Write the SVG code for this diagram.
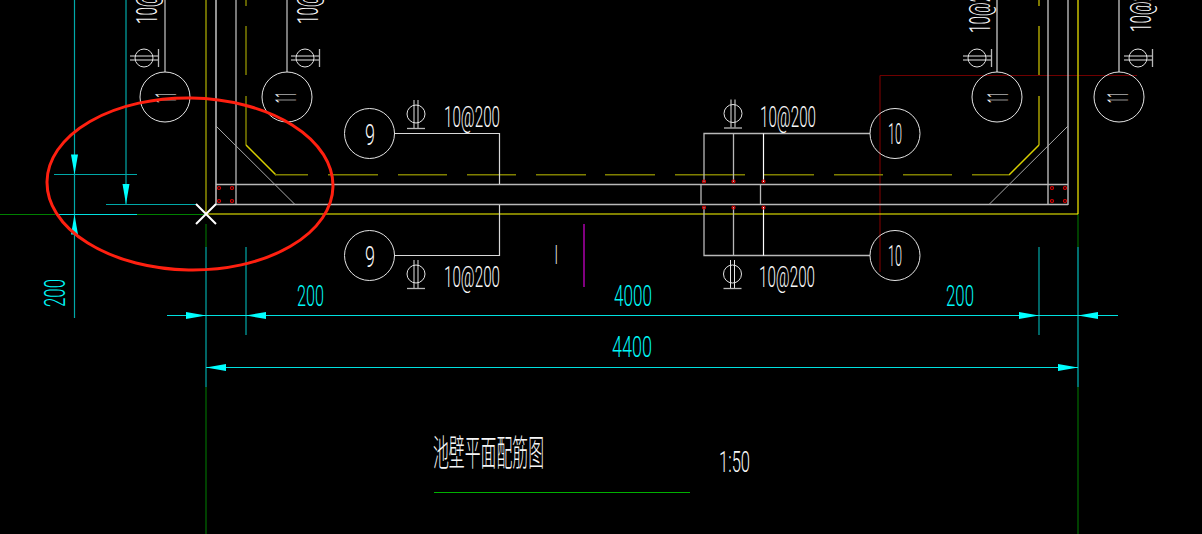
<svg xmlns="http://www.w3.org/2000/svg" xmlns:xlink="http://www.w3.org/1999/xlink" width="1202" height="534" viewBox="0 0 1202 534">
<style>
text{font-family:Roboto,"Liberation Sans","Noto Sans CJK SC",sans-serif;font-weight:300;fill:#fff;font-size:29px;opacity:.97}
.w{fill:#fff}
.c{fill:#00ffff}
.l{fill:none;stroke:#d8d8d8;stroke-width:1.2}
.g{fill:none;stroke:#b8b8b8;stroke-width:1.3}
.n{fill:none;stroke:#e4e4e4;stroke-width:1}
.o{fill:none;stroke:#808000;stroke-width:1.5}
.t{fill:none;stroke:#00a8a8;stroke-width:1.2}
.b{fill:none;stroke:#00e0e0;stroke-width:1}
.v{fill:none;stroke:#008000;stroke-width:1}
.a{fill:#00ffff}
.r{fill:none;stroke:#e00000;stroke-width:1.2}
</style>
<defs>
<g id="phi"><circle r="9" class="n"/><path d="M-2-14V14M2-14V14" class="n"/><path d="M-9 14.5H9" class="g"/></g>
<polygon id="arr" class="a" points="0,0 20,-3.5 20,3.5"/>
</defs>
<rect width="1202" height="534" fill="#000"/>
<g id="connectors">
<path d="M880 75.5H1137M880 75.5V272" fill="none" stroke="#700000" stroke-width="1.2"/>
<path d="M0 214.5H55M137 214.5H206" class="v"/>
<path d="M206 224V247M206 387V534M1078 214V247M1078 387V534" class="v"/>
<path d="M246 0V6M246 26V75M246 96V145" class="o"/>
<path d="M1039 0V6M1039 26V75M1039 96V145" fill="none" stroke="#a8a000" stroke-width="1.5"/>
<path d="M246 145L276 175M1039 145L1009 175" fill="none" stroke="#d8d000" stroke-width="1.5"/>
<path d="M275 174.7H308M328 174.7H378M398 174.7H447M467 174.7H516M536 174.7H586M605 174.7H655M675 174.7H745M764 174.7H814M834 174.7H883M903 174.7H952M972 174.7H1009" class="o"/>
<path d="M206 0V214" fill="none" stroke="#909000" stroke-width="1.5"/>
<path d="M1078 0V214" fill="none" stroke="#c8c000" stroke-width="1.5"/>
<path d="M206 214H1078" fill="none" stroke="#ffff00" stroke-width="1.2"/>
<path d="M216 0V205" class="g" style="stroke-width:1.6"/>
<path d="M236 0V205" class="g"/>
<path d="M1048 0V205M1068 0V205" class="l"/>
<path d="M216 184.5H1068M216 204.5H1068" class="g"/>
<path d="M216 126L295 204.5M1068 126L989 204.5" fill="none" stroke="#a8a8a8" stroke-width="1"/>
<path d="M701 184V204M760.5 184V204" class="g"/>
<path d="M165 0V72M287 0V72" class="g"/>
<path d="M997 0V72M1119 0V72" class="l"/>
<path d="M394 133.5H499.5V184M394 255.5H499.5V205" class="l"/>
<path d="M870 133.5H704V182M733.5 133.5V182M870 255.5H704V207M733.5 255.5V207" class="g"/>
<path d="M763.5 133.5V182M763.5 255.5V207" class="l" style="stroke:#fff"/>
<path d="M74.5 0V318M126 0V204M206 247V387M246 247V335M1039 247V335" class="t"/>
<path d="M1078 247V387" class="b"/>
<path d="M54 174.5H137" class="t"/>
<path d="M106 204.5H196" class="t"/>
<path d="M58 214.5H137" class="b"/>
<path d="M167 315.5H1118M206 367.5H1078" class="b"/>
<use xlink:href="#arr" transform="translate(74.5 174.5) rotate(-90)"/>
<use xlink:href="#arr" transform="translate(126 204) rotate(-90)"/>
<use xlink:href="#arr" transform="translate(74.5 214.5) rotate(90)"/>
<use xlink:href="#arr" transform="translate(206 315.5) rotate(180)"/>
<use xlink:href="#arr" transform="translate(246 315.5)"/>
<use xlink:href="#arr" transform="translate(1039 315.5) rotate(180)"/>
<use xlink:href="#arr" transform="translate(1078 315.5)"/>
<use xlink:href="#arr" transform="translate(206 367.5)"/>
<use xlink:href="#arr" transform="translate(1078 367.5) rotate(180)"/>
<path d="M196 224L216 204M196 204L216 224" fill="none" stroke="#fff" stroke-width="2"/>
<g class="r">
<circle cx="219" cy="188" r="1.5"/><circle cx="232" cy="188" r="1.5"/><circle cx="219" cy="201" r="1.5"/><circle cx="232" cy="201" r="1.5"/>
<circle cx="1052" cy="188" r="1.5"/><circle cx="1065" cy="188" r="1.5"/><circle cx="1052" cy="201" r="1.5"/><circle cx="1065" cy="201" r="1.5"/>
<circle cx="704" cy="181.5" r="1.5"/><circle cx="733.5" cy="181.5" r="1.5"/><circle cx="763.5" cy="181.5" r="1.5"/>
<circle cx="704" cy="207.5" r="1.5"/><circle cx="733.5" cy="207.5" r="1.5"/><circle cx="763.5" cy="207.5" r="1.5"/>
</g>
<path d="M584 224V287" fill="none" stroke="#800080" stroke-width="2"/>
<path d="M434 492.5H690" fill="none" stroke="#00b000" stroke-width="1.2"/>
</g>
<g id="node-11a"><circle cx="165" cy="97" r="25" class="n"/><text class="w" transform="translate(176 103) rotate(-90)" textLength="11" lengthAdjust="spacingAndGlyphs">11</text>
<use xlink:href="#phi" transform="translate(144 58) rotate(-90)"/><text class="w" transform="translate(157 24) rotate(-90)" textLength="56" lengthAdjust="spacingAndGlyphs">10@200</text></g>
<g id="node-11b"><circle cx="287" cy="97" r="25" class="n"/><text class="w" transform="translate(296 103) rotate(-90)" textLength="11" lengthAdjust="spacingAndGlyphs">11</text>
<use xlink:href="#phi" transform="translate(305 58) rotate(-90)"/><text class="w" transform="translate(318 24) rotate(-90)" textLength="56" lengthAdjust="spacingAndGlyphs">10@200</text></g>
<g id="node-11c"><circle cx="997" cy="97" r="25" class="n"/><text class="w" transform="translate(1008 103) rotate(-90)" textLength="11" lengthAdjust="spacingAndGlyphs">11</text>
<use xlink:href="#phi" transform="translate(977 58) rotate(-90)"/><text class="w" transform="translate(990 33) rotate(-90)" textLength="56" lengthAdjust="spacingAndGlyphs">10@200</text></g>
<g id="node-11d"><circle cx="1119" cy="97" r="25" class="n"/><text class="w" transform="translate(1128 103) rotate(-90)" textLength="11" lengthAdjust="spacingAndGlyphs">11</text>
<use xlink:href="#phi" transform="translate(1138 58) rotate(-90)"/><text class="w" transform="translate(1151 32) rotate(-90)" textLength="56" lengthAdjust="spacingAndGlyphs">10@200</text></g>
<g id="node-9a"><circle cx="369.5" cy="133.5" r="25" class="n"/><text class="w" x="365" y="145" textLength="10" lengthAdjust="spacingAndGlyphs">9</text>
<use xlink:href="#phi" transform="translate(416 114)"/><text class="w" x="444" y="127" textLength="56" lengthAdjust="spacingAndGlyphs">10@200</text></g>
<g id="node-9b"><circle cx="369.5" cy="255.5" r="25" class="n"/><text class="w" x="365" y="267" textLength="10" lengthAdjust="spacingAndGlyphs">9</text>
<use xlink:href="#phi" transform="translate(416 274)"/><text class="w" x="444" y="287" textLength="56" lengthAdjust="spacingAndGlyphs">10@200</text></g>
<g id="node-10a"><circle cx="895" cy="133.5" r="25" class="n"/><text class="w" x="888" y="144" textLength="14" lengthAdjust="spacingAndGlyphs">10</text>
<use xlink:href="#phi" transform="translate(733 113.5)"/><text class="w" x="760" y="127" textLength="56" lengthAdjust="spacingAndGlyphs">10@200</text></g>
<g id="node-10b"><circle cx="895" cy="255.5" r="25" class="n"/><text class="w" x="888" y="266" textLength="14" lengthAdjust="spacingAndGlyphs">10</text>
<use xlink:href="#phi" transform="translate(732.5 274)"/><text class="w" x="759" y="287" textLength="56" lengthAdjust="spacingAndGlyphs">10@200</text></g>
<g id="labels">
<text class="c" x="297" y="306" textLength="27" lengthAdjust="spacingAndGlyphs">200</text>
<text class="c" x="614" y="306" textLength="38" lengthAdjust="spacingAndGlyphs">4000</text>
<text class="c" x="946" y="306" textLength="28" lengthAdjust="spacingAndGlyphs">200</text>
<text class="c" x="612" y="357" textLength="40" lengthAdjust="spacingAndGlyphs">4400</text>
<text class="c" transform="translate(65 307) rotate(-90)" textLength="28" lengthAdjust="spacingAndGlyphs">200</text>
<text class="w" x="554.5" y="264" textLength="3.5" lengthAdjust="spacingAndGlyphs" style="font-size:26px">I</text>
<text class="w" x="433" y="466" textLength="111" lengthAdjust="spacingAndGlyphs" style="font-size:36px">池壁平面配筋图</text>
<text class="w" x="719" y="472" textLength="31" lengthAdjust="spacingAndGlyphs">1:50</text>
</g>
<ellipse id="callout" cx="190" cy="184" rx="143" ry="86" transform="rotate(1 190 184)" fill="none" stroke="#ff2010" stroke-width="3"/>
</svg>
